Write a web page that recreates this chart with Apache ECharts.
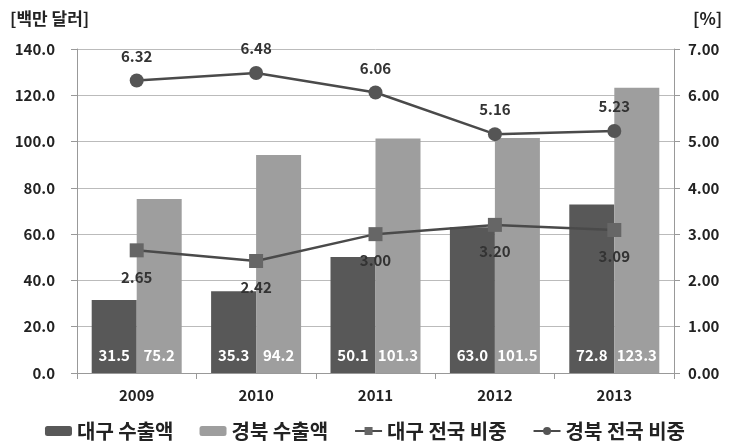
<!DOCTYPE html>
<html><head><meta charset="utf-8">
<script src="https://cdn.jsdelivr.net/npm/echarts@6/dist/echarts.min.js"></script>
<style>html,body{margin:0;padding:0;background:#fff}#c{width:730px;height:448px}</style>
</head><body><div id="c"></div>
<script>
var years = ['2009','2010','2011','2012','2013'];
var daeguExport = [31.5, 35.3, 50.1, 63.0, 72.8];
var gyeongbukExport = [75.2, 94.2, 101.3, 101.5, 123.3];
var daeguShare = [2.65, 2.42, 3.00, 3.20, 3.09];
var gyeongbukShare = [6.32, 6.48, 6.06, 5.16, 5.23];
var seriesNames = ['대구 수출액', '경북 수출액', '대구 전국 비중', '경북 전국 비중'];
var leftUnit = '[백만 달러]';
var rightUnit = '[%]';

var FONT = '"Noto Sans CJK KR", "Noto Sans", sans-serif';
var chart = echarts.init(document.getElementById('c'), null, {renderer: 'canvas'});
chart.setOption({
  animation: false,
  backgroundColor: '#fff',
  textStyle: {fontFamily: FONT},
  grid: {left: 77, right: 56, top: 49, bottom: 75},
  title: [
    {text: leftUnit, left: 5, top: 5, textStyle: {fontSize: 17, fontWeight: 'bold', color: '#222', fontFamily: FONT}},
    {text: rightUnit, left: 688, top: 5, textStyle: {fontSize: 17, fontWeight: 'bold', color: '#222', fontFamily: FONT}}
  ],
  legend: {
    bottom: 2, left: 'center', itemGap: 26, itemWidth: 27, itemHeight: 10,
    textStyle: {fontSize: 20, fontWeight: 'bold', color: '#222', fontFamily: FONT},
    data: seriesNames
  },
  xAxis: {
    type: 'category', data: years,
    axisLine: {lineStyle: {color: '#999', width: 1}},
    axisTick: {show: true, inside: false, length: 6, lineStyle: {color: '#999'}},
    axisLabel: {fontSize: 15, fontWeight: 'bold', color: '#222', margin: 15}
  },
  yAxis: [
    {type: 'value', min: 0, max: 140, interval: 20,
     axisLine: {show: true, lineStyle: {color: '#999'}},
     axisTick: {show: true, length: 6, lineStyle: {color: '#999'}},
     splitLine: {lineStyle: {color: '#bbb'}},
     axisLabel: {fontSize: 15, fontWeight: 'bold', color: '#222', margin: 22, formatter: function(v){return v.toFixed(1);}}},
    {type: 'value', min: 0, max: 7, interval: 1, position: 'right',
     axisLine: {show: true, lineStyle: {color: '#999'}},
     axisTick: {show: true, length: 6, lineStyle: {color: '#999'}},
     splitLine: {show: false},
     axisLabel: {fontSize: 15, fontWeight: 'bold', color: '#222', margin: 14, formatter: function(v){return v.toFixed(2);}}}
  ],
  series: [
    {name: seriesNames[0], type: 'bar', data: daeguExport, barWidth: 45, barGap: '0%',
     itemStyle: {color: '#585858'},
     label: {show: true, position: 'insideBottom', distance: 10, color: '#fff', fontSize: 15, fontWeight: 'bold', formatter: function(p){return p.value.toFixed(1);}}},
    {name: seriesNames[1], type: 'bar', data: gyeongbukExport, barWidth: 45, barGap: '0%',
     itemStyle: {color: '#9e9e9e'},
     label: {show: true, position: 'insideBottom', distance: 10, color: '#fff', fontSize: 15, fontWeight: 'bold', formatter: function(p){return p.value.toFixed(1);}}},
    {name: seriesNames[2], type: 'line', yAxisIndex: 1, data: daeguShare,
     symbol: 'rect', symbolSize: 14, lineStyle: {color: '#4a4a4a', width: 2.5},
     itemStyle: {color: '#666'},
     label: {show: true, position: 'bottom', distance: 12, color: '#333', fontSize: 15, fontWeight: 'bold', formatter: function(p){return p.value.toFixed(2);}}},
    {name: seriesNames[3], type: 'line', yAxisIndex: 1, data: gyeongbukShare,
     symbol: 'circle', symbolSize: 14, lineStyle: {color: '#4a4a4a', width: 2.5},
     itemStyle: {color: '#555'},
     label: {show: true, position: 'top', distance: 10, color: '#333', fontSize: 15, fontWeight: 'bold', formatter: function(p){return p.value.toFixed(2);}}}
  ]
});
</script></body></html>
